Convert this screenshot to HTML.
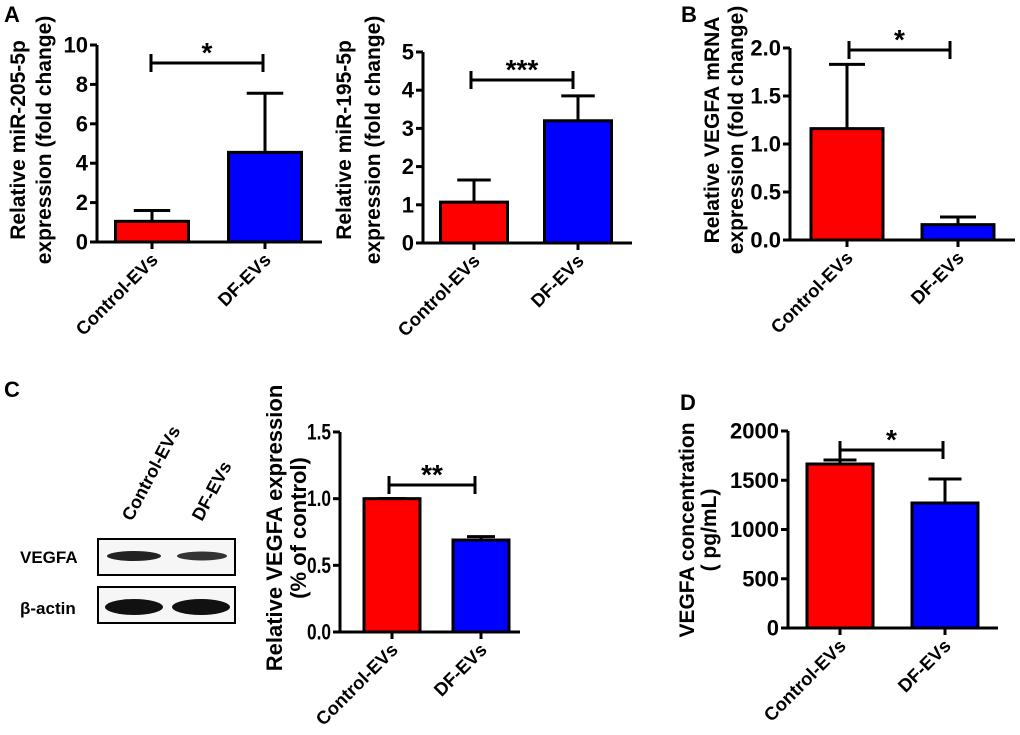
<!DOCTYPE html>
<html><head><meta charset="utf-8"><style>
html,body{margin:0;padding:0;background:#fff;}
svg{display:block;font-family:"Liberation Sans",Arial,sans-serif;font-weight:bold;}
</style></head><body>
<svg id="fig" width="1020" height="735" viewBox="0 0 1020 735" xmlns="http://www.w3.org/2000/svg">
<text x="4" y="22" font-size="22">A</text>
<text x="681" y="22" font-size="22">B</text>
<text x="4" y="397" font-size="22">C</text>
<text x="680" y="410" font-size="22">D</text>
<g>
<text transform="translate(132,522) rotate(-62)" font-size="18">Control-EVs</text>
<text transform="translate(202,522) rotate(-62)" font-size="18">DF-EVs</text>
<text x="20" y="563" font-size="17">VEGFA</text>
<text x="20" y="614" font-size="17">β-actin</text>
<rect x="98" y="539" width="137" height="36" fill="#f6f6f6" stroke="#000" stroke-width="2"/>
<rect x="98" y="587" width="137" height="36" fill="#f6f6f6" stroke="#000" stroke-width="2"/>
<ellipse cx="134" cy="556" rx="27" ry="5" fill="#222"/>
<ellipse cx="202" cy="556" rx="25" ry="4.5" fill="#333"/>
<ellipse cx="134" cy="607" rx="29" ry="8" fill="#111"/>
<ellipse cx="201" cy="607" rx="29" ry="8" fill="#111"/>
</g>
</svg>
<script>
const categories = ["Control-EVs", "DF-EVs"];
const colors = ["#ff0000", "#0000ff"];
// Panel A1: miR-205-5p
const a1Values = [1.05, 4.55];
const a1Errors = [1.6, 7.55];
const a1Ticks = [0, 2, 4, 6, 8, 10];
// Panel A2: miR-195-5p
const a2Values = [1.07, 3.2];
const a2Errors = [1.65, 3.85];
const a2Ticks = [0, 1, 2, 3, 4, 5];
// Panel B: VEGFA mRNA
const bValues = [1.16, 0.16];
const bErrors = [1.83, 0.24];
const bTicks = ["0.0", "0.5", "1.0", "1.5", "2.0"];
// Panel C: VEGFA protein
const cValues = [1.0, 0.69];
const cErrors = [1.0, 0.715];
const cTicks = ["0.0", "0.5", "1.0", "1.5"];
// Panel D: VEGFA concentration
const dValues = [1665, 1269];
const dErrors = [1705, 1513];
const dTicks = [0, 500, 1000, 1500, 2000];

const NS = "http://www.w3.org/2000/svg";
const svg = document.getElementById("fig");
function mk(tag, attrs, parent) {
  const e = document.createElementNS(NS, tag);
  for (const k in attrs) e.setAttribute(k, attrs[k]);
  (parent || svg).appendChild(e);
  return e;
}
function panel(p) {
  const g = mk("g", {});
  
  
  const ymin = Number(p.ticks[0]), ymax = Number(p.ticks[p.ticks.length - 1]);
  const y = v => p.y0 - (v - ymin) / (ymax - ymin) * (p.y0 - p.yTop);
  const ax = mk("line", {x1: p.ax, y1: p.yTop, x2: p.ax, y2: p.y0, stroke: "#000", "stroke-width": 3}, g);
  
  
  p.ticks.forEach(t => {
    const yy = y(Number(t));
    mk("line", {x1: p.ax - 7, y1: yy, x2: p.ax, y2: yy, stroke: "#000", "stroke-width": 3}, g);
    const attrs = {x: p.ax - 9, y: yy + 7.5, "font-size": 22, "text-anchor": "end"};
    if (p.tickW) { attrs.textLength = p.tickW * String(t).length; attrs.lengthAdjust = "spacingAndGlyphs"; }
    const tl = mk("text", attrs, g);
    tl.textContent = t;
    
    
  });
  const xa = mk("line", {x1: p.ax - 1.5, y1: p.y0, x2: p.axEnd, y2: p.y0, stroke: "#000", "stroke-width": 3}, g);
  
  
  categories.forEach((c, i) => {
    const cx = p.cx[i];
    const top = y(p.values[i]);
    const err = y(p.errors[i]);
    const el = mk("line", {x1: cx, y1: err, x2: cx, y2: top, stroke: "#000", "stroke-width": 3}, g);
    
    
    const cap = mk("line", {x1: cx - p.bw / 4, y1: err, x2: cx + p.bw / 4, y2: err, stroke: "#000", "stroke-width": 3}, g);
    
    
    const r = mk("rect", {x: cx - p.bw / 2, y: top, width: p.bw, height: p.y0 - top, fill: colors[i], stroke: "#000", "stroke-width": 3}, g);
    
    
    mk("line", {x1: cx, y1: p.y0, x2: cx, y2: p.y0 + 7, stroke: "#000", "stroke-width": 3}, g);
    const lt = mk("text", {transform: `translate(${cx + 7},${p.y0 + 19}) rotate(-45)`, "font-size": 18.5, "text-anchor": "end"}, g);
    lt.textContent = c;
    
    
  });
  const s = p.sig;
  mk("line", {x1: s.x1, y1: s.y, x2: s.x2, y2: s.y, stroke: "#000", "stroke-width": 3}, g);
  mk("line", {x1: s.x1, y1: s.y - 9, x2: s.x1, y2: s.y + 9, stroke: "#000", "stroke-width": 3}, g);
  mk("line", {x1: s.x2, y1: s.y - 9, x2: s.x2, y2: s.y + 9, stroke: "#000", "stroke-width": 3}, g);
  const st = mk("text", {x: (s.x1 + s.x2) / 2, y: s.y - 1, "font-size": 28, "text-anchor": "middle"}, g);
  st.textContent = s.mark;
  
  
  p.title.forEach((line, k) => {
    const t = mk("text", {transform: `translate(${p.titleX[k] + 8},${p.titleY}) rotate(-90)`, "font-size": p.titleSize || 21, "text-anchor": "middle"}, g);
    t.textContent = line;
    
    
  });
}
panel({name: "chart-mir205", ticks: a1Ticks, values: a1Values, errors: a1Errors, ax: 97, axEnd: 322, y0: 242, yTop: 45, cx: [152, 265], bw: 73,
  sig: {x1: 151, x2: 263, y: 63, mark: "*"}, title: ["Relative miR-205-5p", "expression (fold change)"], titleX: [17, 43], titleY: 140});
panel({name: "chart-mir195", ticks: a2Ticks, values: a2Values, errors: a2Errors, ax: 423, axEnd: 632, y0: 243, yTop: 52, cx: [474, 578], bw: 67,
  sig: {x1: 471, x2: 573, y: 80, mark: "***"}, title: ["Relative miR-195-5p", "expression (fold change)"], titleX: [343, 372], titleY: 140});
panel({name: "chart-vegfa-mrna", ticks: bTicks, values: bValues, errors: bErrors, ax: 790, axEnd: 1015, y0: 240, yTop: 48, cx: [847, 958], bw: 72,
  sig: {x1: 849, x2: 950, y: 50, mark: "*"}, title: ["Relative VEGFA mRNA", "expression (fold change)"], titleX: [711, 735], titleY: 130});
panel({name: "chart-vegfa-protein", ticks: cTicks, values: cValues, errors: cErrors, ax: 340, axEnd: 520, y0: 632, yTop: 432, cx: [392, 481], bw: 56, tickW: 8,
  sig: {x1: 389, x2: 475, y: 485, mark: "**"}, title: ["Relative  VEGFA expression", "(% of control)"], titleX: [274, 298], titleY: 528, titleSize: 22});
panel({name: "chart-vegfa-concentration", ticks: dTicks, values: dValues, errors: dErrors, ax: 788, axEnd: 998, y0: 628, yTop: 431, cx: [840, 945], bw: 66,
  sig: {x1: 840, x2: 943, y: 450, mark: "*"}, title: ["VEGFA concentration", "( pg/mL)"], titleX: [686, 708], titleY: 530});
</script>
</body></html>
